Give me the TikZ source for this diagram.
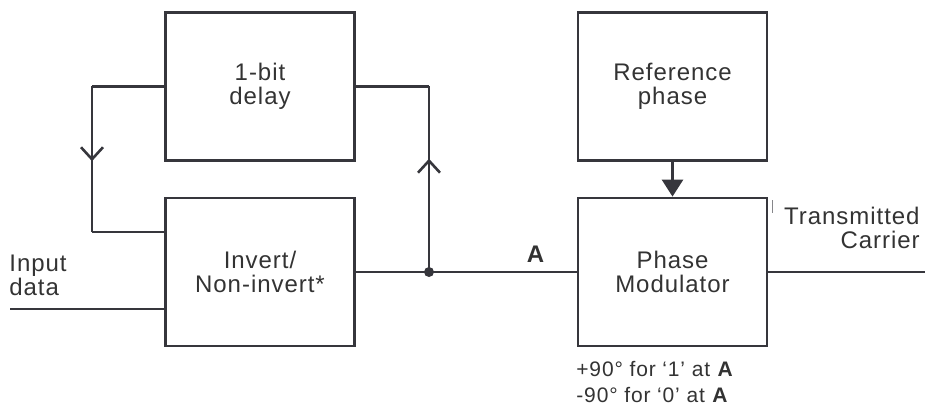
\documentclass[tikz,border=0pt]{standalone}
\usepackage{fontspec}
\setmainfont{Liberation Sans}[LetterSpace=4.0]
\usetikzlibrary{arrows.meta,decorations.markings}
\definecolor{ink}{HTML}{36363C}
\definecolor{txt}{HTML}{333333}
\begin{document}
\begin{tikzpicture}[x=1pt,y=-1pt,
  line width=2.8pt, draw=ink,
  box/.style={draw=ink, line width=2.8pt, inner sep=0pt, minimum width=189pt, minimum height=148pt,
    align=center, text=txt, font=\fontsize{24}{24}\selectfont},
  lbl/.style={inner sep=0pt, text=txt, font=\fontsize{24}{23.5}\selectfont},
  note/.style={inner sep=0pt, text=txt, font=\fontsize{21}{26}\selectfont},
  vmark/.style={postaction={decorate}, decoration={markings,
    mark=at position #1 with {\draw[ink,line width=2.6pt,line join=miter] (-12pt,-11pt) -- (0pt,0pt) -- (-12pt,11pt);}}}
]
\useasboundingbox (0,0) rectangle (925,406);
% boxes
\node[box] (delay) at (260,86.5) {1-bit\\delay};
\node[box] (inv)   at (260,272) {Invert/\\Non-invert*};
\node[box] (ref)   at (672.5,86.5) {Reference\\phase};
\node[box] (mod)   at (672.5,272) {Phase\\Modulator};
% coordinates
\coordinate (fbtop) at (92,86.5);
\coordinate (fbbot) at (92,232);
\coordinate (rtop) at (429,86.5);
\coordinate (junc) at (429,272);
\coordinate (in) at (10,309);
\coordinate (out) at (925,272);
% feedback loop through delay
\draw (delay.west) -- (fbtop);
\draw[vmark=0.5] (fbtop) -- (fbbot);
\draw (fbbot) -- (fbbot -| inv.west);
\draw (delay.east) -- (rtop);
\draw[vmark=0.6] (junc) -- (rtop);
% main path
\draw (in) -- (in -| inv.west);
\draw (inv.east) -- (junc) -- (mod.west);
\fill[ink] (junc) circle (5pt);
\draw (mod.east) -- (out);
\draw[-{Triangle[length=17pt,width=21pt]}] (ref.south) -- (mod.north);
\draw[line width=0.6pt, draw=ink!60] (772,200) -- (772,213);
% labels
\node[lbl, anchor=base] (lA) at (536,262) {\textbf{A}};
\node[lbl, anchor=base west, align=left] (inlbl) at (8,295) {Input\\data};
\node[lbl, anchor=base east, align=right] (outlbl) at (921,248) {Transmitted\\Carrier};
\node[note, anchor=base west] (n1) at (575,376) {+90° for ‘1’ at \textbf{A}};
\node[note, anchor=base west] (n2) at (575,402) {-90° for ‘0’ at \textbf{A}};
\end{tikzpicture}
\end{document}
